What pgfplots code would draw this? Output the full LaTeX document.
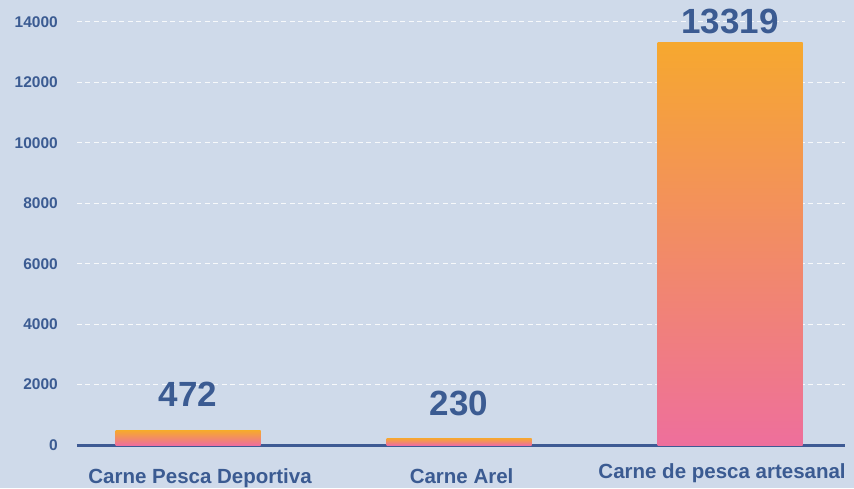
\documentclass[border=0pt]{standalone}
\usepackage{pgfplots}
\pgfplotsset{compat=1.18}
\usepackage{fontspec}
\setmainfont{Liberation Sans}
\definecolor{bg}{HTML}{CFDAEA}
\definecolor{txt}{HTML}{3B5B92}
\definecolor{axl}{HTML}{3E5A94}
\definecolor{barTop}{HTML}{F6A82F}
\definecolor{barBot}{HTML}{EE6F9C}
\begin{document}
\begin{tikzpicture}[x=1pt,y=1pt]
\useasboundingbox (-77,-43) rectangle (777,445);
\fill[bg] (-77,-43) rectangle (777,445);
\begin{axis}[
  at={(0,0)}, anchor=south west,
  scale only axis, width=768pt, height=423pt,
  xmin=-0.41, xmax=2.424, ymin=0, ymax=14000,
  axis x line*=bottom, axis y line*=left,
  x axis line style={-, draw=axl, line width=3pt},
  y axis line style={draw=none},
  major tick length=0pt,
  ymajorgrids,
  grid style={white, opacity=0.85, line width=1pt, dash pattern=on 5pt off 3.5pt},
  ytick={0,2000,4000,6000,8000,10000,12000,14000},
  scaled y ticks=false,
  /pgf/number format/assume math mode=true,
  /pgf/number format/1000 sep={},
  yticklabel style={font=\bfseries\fontsize{15.5}{18}\selectfont, text=txt, anchor=east, inner sep=0pt, xshift=-19pt},
  xtick={0,1,2},
  xticklabels={\kern24pt Carne Pesca Deportiva, \kern5pt Carne Arel, \kern-16pt\raisebox{5pt}{Carne de pesca artesanal}},
  xticklabel style={font=\bfseries\fontsize{20.5}{24}\selectfont, text=txt, anchor=base, inner sep=0pt, yshift=-38pt},
  ybar, bar width=145pt, bar shift=0pt,
  clip=false,
  every node near coord/.append style={font=\bfseries\fontsize{35}{40}\selectfont, text=txt, anchor=base, inner sep=0pt},
]
\addplot[draw=none, top color=barTop, bottom color=barBot, point meta=explicit symbolic, nodes near coords,
  every node near coord/.append style={yshift=24pt}]
  coordinates {(0,472) [472]};
\addplot[draw=none, top color=barTop, bottom color=barBot, point meta=explicit symbolic, nodes near coords,
  every node near coord/.append style={yshift=23pt}]
  coordinates {(1,230) [230]};
\addplot[draw=none, top color=barTop, bottom color=barBot, point meta=explicit symbolic, nodes near coords,
  every node near coord/.append style={yshift=9pt}]
  coordinates {(2,13319) [13319]};
\end{axis}
\end{tikzpicture}
\end{document}
